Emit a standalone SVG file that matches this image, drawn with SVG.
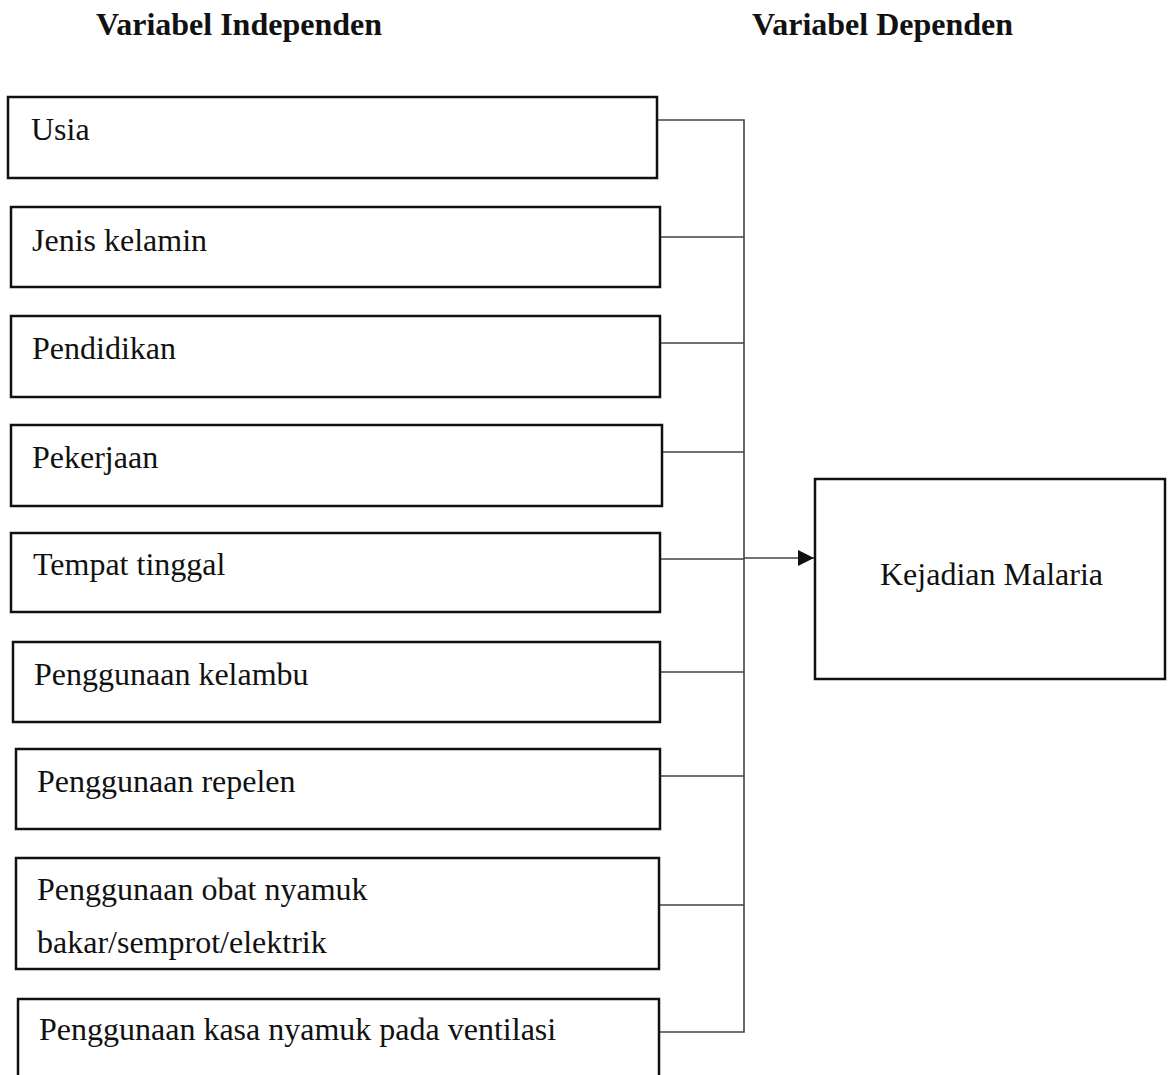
<svg xmlns="http://www.w3.org/2000/svg" width="1174" height="1075" viewBox="0 0 1174 1075">
<style>
.box{fill:#fff;stroke:#111;stroke-width:2.5}
.lbl{font-family:"Liberation Serif","Times New Roman",serif;font-size:32px;fill:#111}
.hdr{font-family:"Liberation Serif","Times New Roman",serif;font-size:32px;font-weight:bold;fill:#111}
.con{fill:none;stroke:#444;stroke-width:1.6}
</style>
<defs>
<marker id="arr" markerWidth="16" markerHeight="16" refX="16" refY="8" orient="auto" markerUnits="userSpaceOnUse">
<path d="M0,0 L16,8 L0,16 Z" fill="#111"/>
</marker>
</defs>
<rect width="1174" height="1075" fill="#fff"/>
<g id="headers">
<text class="hdr" x="96" y="35">Variabel Independen</text>
<text class="hdr" x="752" y="35">Variabel Dependen</text>
</g>
<g id="connectors">
<path class="con" d="M657,120 H744 V1032 H659"/>
<path class="con" d="M660,237 H744 M660,343 H744 M662,452 H744 M660,559 H744 M660,672 H744 M660,776 H744 M659,905 H744"/>
<line class="con" x1="744" y1="558" x2="814" y2="558" marker-end="url(#arr)"/>
</g>
<g id="usia"><rect class="box" x="8" y="97" width="649" height="81"/><text class="lbl" x="31" y="140">Usia</text></g>
<g id="jenis-kelamin"><rect class="box" x="11" y="207" width="649" height="80"/><text class="lbl" x="32" y="251">Jenis kelamin</text></g>
<g id="pendidikan"><rect class="box" x="11" y="316" width="649" height="81"/><text class="lbl" x="32" y="359">Pendidikan</text></g>
<g id="pekerjaan"><rect class="box" x="11" y="425" width="651" height="81"/><text class="lbl" x="32" y="468">Pekerjaan</text></g>
<g id="tempat-tinggal"><rect class="box" x="11" y="533" width="649" height="79"/><text class="lbl" x="33" y="575">Tempat tinggal</text></g>
<g id="kelambu"><rect class="box" x="13" y="642" width="647" height="80"/><text class="lbl" x="34" y="685">Penggunaan kelambu</text></g>
<g id="repelen"><rect class="box" x="16" y="749" width="644" height="80"/><text class="lbl" x="37" y="792">Penggunaan repelen</text></g>
<g id="obat-nyamuk"><rect class="box" x="16" y="858" width="643" height="111"/><text class="lbl" x="37" y="900">Penggunaan obat nyamuk</text><text class="lbl" x="37" y="953">bakar/semprot/elektrik</text></g>
<g id="kasa-nyamuk"><rect class="box" x="18" y="999" width="641" height="100"/><text class="lbl" x="39" y="1040">Penggunaan kasa nyamuk pada ventilasi</text></g>
<g id="kejadian-malaria"><rect class="box" x="815" y="479" width="350" height="200"/><text class="lbl" x="880" y="585">Kejadian Malaria</text></g>
</svg>
